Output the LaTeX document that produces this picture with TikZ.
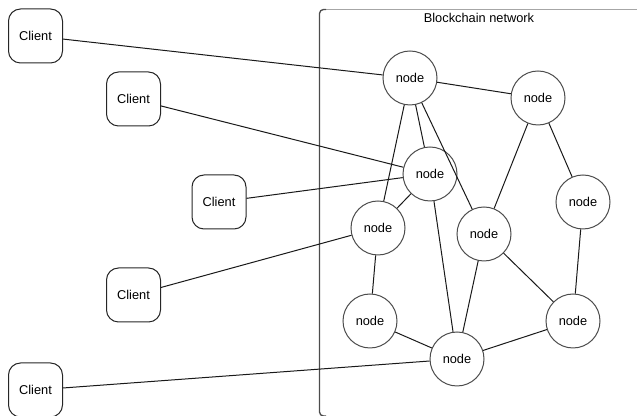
\documentclass[tikz,border=0pt]{standalone}
\usepackage{fontspec}
\setmainfont{Liberation Sans}
\begin{document}
\begin{tikzpicture}[x=0.75pt,y=-0.75pt,
  every node/.style={font=\fontsize{9.6}{11}\selectfont},
  client/.style={draw=black!85, line width=0.75pt, rounded corners=9pt, minimum width=54*0.75pt, minimum height=54*0.75pt, inner sep=0pt},
  peer/.style={draw=black!70, line width=0.75pt, circle, minimum size=54*0.75pt, inner sep=0pt, fill=white},
  link/.style={draw=black!90, line width=0.75pt}]
\useasboundingbox (0,0) rectangle (637,416);
\begin{scope}
\clip (0,0) rectangle (637,416);
\draw[black!35, line width=0.75pt] (323,9.5) -- (660,9.5);
\draw[black!70, line width=1pt, rounded corners=3pt] (326,9.5) -- (319.5,9.5) -- (319.5,416) -- (326,416);
\end{scope}
\node[anchor=base] (title) at (479,23) {Blockchain network};

\node[client] (c1) at (35.5,36) {Client};
\node[client] (c2) at (133.5,99) {Client};
\node[client] (c3) at (219,202) {Client};
\node[client] (c4) at (133.5,295) {Client};
\node[client] (c5) at (35.5,390) {Client};

\node[peer] (n1) at (410,78) {node};
\node[peer] (n2) at (538,98) {node};
\node[peer] (n3) at (430,174) {node};
\node[peer] (n4) at (583,202) {node};
\node[peer] (n5) at (378,228) {node};
\node[peer] (n6) at (484,234) {node};
\node[peer] (n7) at (370,321) {node};
\node[peer] (n8) at (457,359) {node};
\node[peer] (n9) at (573,321) {node};

\draw[link] (c1) -- (n1);
\draw[link] (c2) -- (n3);
\draw[link] (c3) -- (n3);
\draw[link] (c4) -- (n5);
\draw[link] (c5) -- (n8);
\draw[link] (n1) -- (n2);
\draw[link] (n1) -- (n3);
\draw[link] (n1) -- (n5);
\draw[link] (n1) -- (n6);
\draw[link] (n2) -- (n6);
\draw[link] (n2) -- (n4);
\draw[link] (n3) -- (n5);
\draw[link] (n3) -- (n8);
\draw[link] (n5) -- (n7);
\draw[link] (n7) -- (n8);
\draw[link] (n6) -- (n8);
\draw[link] (n6) -- (n9);
\draw[link] (n4) -- (n9);
\draw[link] (n8) -- (n9);
\end{tikzpicture}
\end{document}
